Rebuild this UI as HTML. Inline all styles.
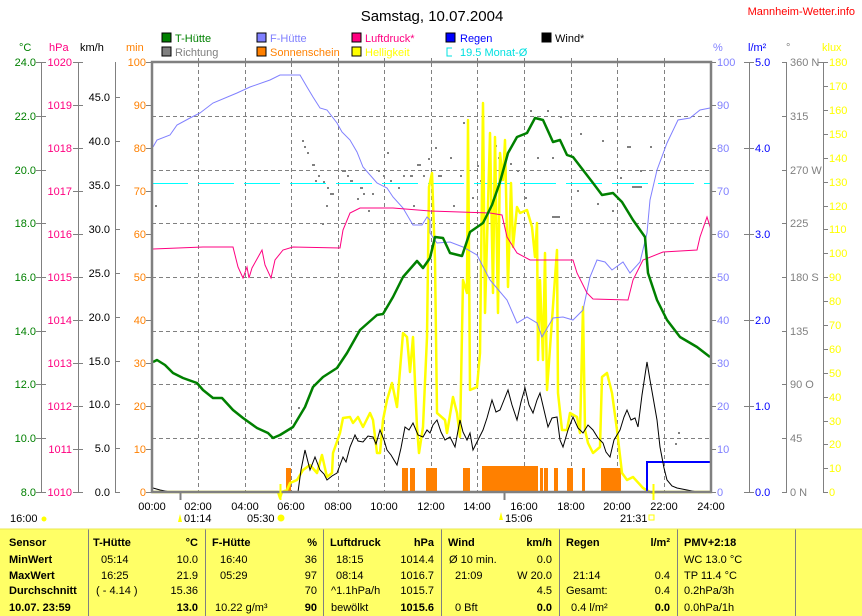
<!DOCTYPE html>
<html><head><meta charset="utf-8"><style>
html,body{margin:0;padding:0;background:#fff;}
svg{display:block;font-family:"Liberation Sans",sans-serif;}
</style></head><body>
<svg width="862" height="616" viewBox="0 0 862 616" xmlns="http://www.w3.org/2000/svg">
<rect width="862" height="616" fill="#fff"/>
<!-- title -->
<text x="432" y="21" font-size="15" text-anchor="middle" fill="#000">Samstag, 10.07.2004</text>
<text x="855" y="15" font-size="11" text-anchor="end" fill="#ff0000">Mannheim-Wetter.info</text>
<!-- legend -->
<g font-size="11">
<rect x="162" y="33" width="9" height="9" fill="#008000" stroke="#000"/><text x="175" y="42" fill="#008000">T-Hütte</text>
<rect x="162" y="47" width="9" height="9" fill="#808080" stroke="#000"/><text x="175" y="56" fill="#808080">Richtung</text>
<rect x="257" y="33" width="9" height="9" fill="#8080ff" stroke="#000"/><text x="270" y="42" fill="#8080ff">F-Hütte</text>
<rect x="257" y="47" width="9" height="9" fill="#ff8000" stroke="#000"/><text x="270" y="56" fill="#ff8000">Sonnenschein</text>
<rect x="352" y="33" width="9" height="9" fill="#ff0080" stroke="#000"/><text x="365" y="42" fill="#ff0080">Luftdruck*</text>
<rect x="352" y="47" width="9" height="9" fill="#ffff00" stroke="#000"/><text x="365" y="56" fill="#ffff00">Helligkeit</text>
<rect x="446" y="33" width="9" height="9" fill="#0000ff" stroke="#000"/><text x="460" y="42" fill="#0000ff">Regen</text>
<path d="M452 48 H447 V56 H452" fill="none" stroke="#00e0e0"/><text x="460" y="56" fill="#00e0e0">19.5 Monat-Ø</text>
<rect x="542" y="33" width="9" height="9" fill="#000" stroke="#000"/><text x="555" y="42" fill="#000">Wind*</text>
<!-- unit labels -->
<text x="19" y="51" fill="#008000">°C</text>
<text x="49" y="51" fill="#ff0080">hPa</text>
<text x="80" y="51" fill="#000">km/h</text>
<text x="126" y="51" fill="#ff8000">min</text>
<text x="713" y="51" fill="#8080ff">%</text>
<text x="748" y="51" fill="#0000ff">l/m²</text>
<text x="786" y="51" fill="#808080">°</text>
<text x="822" y="51" fill="#ffff00">klux</text>
</g>
<!-- axes lines -->
<g stroke="#808080" stroke-width="1" fill="none">
<line x1="41.5" y1="62" x2="41.5" y2="492"/>
<line x1="78.5" y1="62" x2="78.5" y2="492"/>
<line x1="115.5" y1="62" x2="115.5" y2="492"/>
<line x1="749.5" y1="62" x2="749.5" y2="492"/>
<line x1="786.5" y1="62" x2="786.5" y2="492"/>
<line x1="823.5" y1="62" x2="823.5" y2="492"/>
</g>
<!-- left axis labels -->
<g font-size="11" text-anchor="end">
<g fill="#008000">
<text x="36" y="66">24.0</text><text x="36" y="120">22.0</text><text x="36" y="174">20.0</text><text x="36" y="227">18.0</text><text x="36" y="281">16.0</text><text x="36" y="335">14.0</text><text x="36" y="388">12.0</text><text x="36" y="442">10.0</text><text x="36" y="496">8.0</text>
</g>
<g fill="#ff0080">
<text x="72" y="66">1020</text><text x="72" y="109">1019</text><text x="72" y="152">1018</text><text x="72" y="195">1017</text><text x="72" y="238">1016</text><text x="72" y="281">1015</text><text x="72" y="324">1014</text><text x="72" y="367">1013</text><text x="72" y="410">1012</text><text x="72" y="453">1011</text><text x="72" y="496">1010</text>
</g>
<g fill="#000">
<text x="110" y="101">45.0</text><text x="110" y="145">40.0</text><text x="110" y="189">35.0</text><text x="110" y="233">30.0</text><text x="110" y="277">25.0</text><text x="110" y="321">20.0</text><text x="110" y="365">15.0</text><text x="110" y="408">10.0</text><text x="110" y="452">5.0</text><text x="110" y="496">0.0</text>
</g>
<g fill="#ff8000">
<text x="146" y="66">100</text><text x="146" y="109">90</text><text x="146" y="152">80</text><text x="146" y="195">70</text><text x="146" y="238">60</text><text x="146" y="281">50</text><text x="146" y="324">40</text><text x="146" y="367">30</text><text x="146" y="410">20</text><text x="146" y="453">10</text><text x="146" y="496">0</text>
</g>
</g>
<!-- left ticks -->
<g stroke="#808080">
<path d="M36 62.5h10M36 116.5h10M36 170.5h10M36 223.5h10M36 277.5h10M36 331.5h10M36 384.5h10M36 438.5h10M36 492.5h10"/>
<path d="M73 62.5h10M73 105.5h10M73 148.5h10M73 191.5h10M73 234.5h10M73 277.5h10M73 320.5h10M73 363.5h10M73 406.5h10M73 449.5h10M73 492.5h10"/>
<path d="M115 97.5h5M115 141.5h5M115 185.5h5M115 229.5h5M115 273.5h5M115 317.5h5M115 361.5h5M115 404.5h5M115 448.5h5M115 492.5h5"/>
<path d="M146 62.5h5M146 105.5h5M146 148.5h5M146 191.5h5M146 234.5h5M146 277.5h5M146 320.5h5M146 363.5h5M146 406.5h5M146 449.5h5M146 492.5h5"/>
<path d="M711 62.5h5M711 105.5h5M711 148.5h5M711 191.5h5M711 234.5h5M711 277.5h5M711 320.5h5M711 363.5h5M711 406.5h5M711 449.5h5M711 492.5h5"/>
<path d="M744 62.5h10M744 148.5h10M744 234.5h10M744 320.5h10M744 406.5h10M744 492.5h10"/>
<path d="M782 62.5h5M782 116.5h5M782 170.5h5M782 223.5h5M782 277.5h5M782 331.5h5M782 384.5h5M782 438.5h5M782 492.5h5"/>
<path d="M818 62.5h10M823 86.5h5M823 110.5h5M823 134.5h5M823 158.5h5M823 182.5h5M823 206.5h5M823 229.5h5M823 253.5h5M823 277.5h5M823 301.5h5M823 325.5h5M823 349.5h5M823 373.5h5M823 397.5h5M823 421.5h5M823 444.5h5M823 468.5h5M823 492.5h5"/>
</g>
<!-- right axis labels -->
<g font-size="11">
<g fill="#8080ff">
<text x="717" y="66">100</text><text x="717" y="109">90</text><text x="717" y="152">80</text><text x="717" y="195">70</text><text x="717" y="238">60</text><text x="717" y="281">50</text><text x="717" y="324">40</text><text x="717" y="367">30</text><text x="717" y="410">20</text><text x="717" y="453">10</text><text x="717" y="496">0</text>
</g>
<g fill="#0000ff">
<text x="755" y="66">5.0</text><text x="755" y="152">4.0</text><text x="755" y="238">3.0</text><text x="755" y="324">2.0</text><text x="755" y="410">1.0</text><text x="755" y="496">0.0</text>
</g>
<g fill="#808080">
<text x="790" y="66">360 N</text><text x="790" y="120">315</text><text x="790" y="174">270 W</text><text x="790" y="227">225</text><text x="790" y="281">180 S</text><text x="790" y="335">135</text><text x="790" y="388">90  O</text><text x="790" y="442">45</text><text x="790" y="496">0    N</text>
</g>
<g fill="#ffff00">
<text x="829" y="66">180</text><text x="829" y="90">170</text><text x="829" y="114">160</text><text x="829" y="138">150</text><text x="829" y="162">140</text><text x="829" y="186">130</text><text x="829" y="210">120</text><text x="829" y="233">110</text><text x="829" y="257">100</text><text x="829" y="281">90</text><text x="829" y="305">80</text><text x="829" y="329">70</text><text x="829" y="353">60</text><text x="829" y="377">50</text><text x="829" y="401">40</text><text x="829" y="425">30</text><text x="829" y="448">20</text><text x="829" y="472">10</text><text x="829" y="496">0</text>
</g>
</g>
<!-- grid -->
<g stroke="#808080" stroke-dasharray="4 3" stroke-width="1">
<path d="M152 116.5H711M152 170.5H711M152 223.5H711M152 277.5H711M152 331.5H711M152 384.5H711M152 438.5H711"/>
<path d="M198.5 63V491M245.5 63V491M291.5 63V491M338.5 63V491M384.5 63V491M431.5 63V491M477.5 63V491M524.5 63V491M571.5 63V491M617.5 63V491M664.5 63V491"/>
</g>
<line x1="152" y1="183.5" x2="711" y2="183.5" stroke="#00ffff" stroke-dasharray="36 10"/>
<!-- orange sunshine bars -->
<g fill="#ff8000">
<rect x="286" y="468" width="5" height="24"/>
<rect x="402" y="468" width="6" height="24"/><rect x="410" y="468" width="5" height="24"/>
<rect x="426" y="468" width="11" height="24"/>
<rect x="463" y="468" width="7" height="24"/>
<rect x="482" y="466" width="56" height="26"/>
<rect x="540" y="468" width="3" height="24"/><rect x="544" y="468" width="4" height="24"/>
<rect x="554" y="468" width="4" height="24"/><rect x="567" y="468" width="6" height="24"/>
<rect x="582" y="468" width="3" height="24"/><rect x="601" y="468" width="20" height="24"/>
</g>
<!-- direction dots -->
<g fill="#808080">
<rect x="302" y="140" width="2" height="2"/><rect x="304" y="146" width="2" height="2"/><rect x="307" y="152" width="2" height="2"/><rect x="312" y="164" width="3" height="2"/><rect x="315" y="180" width="2" height="2"/><rect x="318" y="175" width="2" height="2"/><rect x="323" y="181" width="2" height="2"/><rect x="327" y="187" width="2" height="2"/><rect x="330" y="193" width="4" height="2"/><rect x="326" y="205" width="2" height="2"/><rect x="322" y="223" width="2" height="2"/><rect x="342" y="170" width="4" height="2"/><rect x="347" y="175" width="2" height="2"/><rect x="350" y="180" width="3" height="2"/><rect x="360" y="187" width="3" height="2"/><rect x="363" y="193" width="2" height="2"/><rect x="357" y="198" width="2" height="2"/><rect x="368" y="210" width="2" height="2"/><rect x="372" y="193" width="2" height="2"/><rect x="378" y="170" width="2" height="2"/><rect x="383" y="175" width="2" height="2"/><rect x="387" y="152" width="2" height="2"/><rect x="390" y="180" width="2" height="2"/><rect x="398" y="187" width="2" height="2"/><rect x="403" y="175" width="2" height="2"/><rect x="410" y="175" width="3" height="2"/><rect x="413" y="205" width="2" height="2"/><rect x="417" y="164" width="4" height="2"/><rect x="423" y="175" width="2" height="2"/><rect x="428" y="158" width="2" height="2"/><rect x="155" y="205" width="2" height="2"/><rect x="298" y="407" width="2" height="2"/>
<rect x="463" y="122" width="2" height="2"/><rect x="435" y="147" width="2" height="2"/><rect x="450" y="157" width="2" height="2"/><rect x="438" y="175" width="4" height="2"/><rect x="460" y="175" width="2" height="2"/><rect x="477" y="165" width="2" height="2"/><rect x="480" y="180" width="2" height="2"/><rect x="472" y="197" width="2" height="2"/><rect x="453" y="205" width="2" height="2"/><rect x="495" y="145" width="2" height="2"/><rect x="498" y="157" width="2" height="2"/><rect x="510" y="163" width="2" height="2"/><rect x="517" y="170" width="2" height="2"/><rect x="525" y="197" width="2" height="2"/><rect x="530" y="110" width="2" height="2"/><rect x="547" y="110" width="2" height="2"/><rect x="560" y="116" width="2" height="2"/><rect x="537" y="157" width="2" height="2"/><rect x="552" y="157" width="2" height="2"/><rect x="552" y="216" width="8" height="2"/><rect x="580" y="133" width="2" height="2"/><rect x="602" y="140" width="2" height="2"/><rect x="627" y="146" width="4" height="2"/><rect x="577" y="190" width="2" height="2"/><rect x="597" y="203" width="2" height="2"/><rect x="612" y="210" width="2" height="2"/><rect x="620" y="177" width="2" height="2"/><rect x="632" y="186" width="10" height="2"/><rect x="650" y="146" width="2" height="2"/><rect x="640" y="170" width="2" height="2"/><rect x="678" y="432" width="2" height="2"/><rect x="675" y="443" width="2" height="2"/>
</g>
<!-- Helligkeit -->
<polyline fill="none" stroke="#ffff00" stroke-width="2.5" stroke-linejoin="round" points="152,492 278,492 280,498 282,492 287,490 290,483 297,480 303,470 310,465 317,473 322,455 327,477 332,473 333,453 340,433 343,418 350,417 353,423 358,417 363,427 370,413 373,420 377,453 380,453 383,420 387,400 392,383 397,407 400,370 403,333 407,337 410,372 413,337 417,427 419,453 423,427 427,337 429,187 432,173 435,260 437,413 445,420 447,433 453,397 457,413 460,437 463,280 467,293 468,120 470,390 477,387 480,353 483,103 485,313 490,133 493,293 495,137 498,313 500,153 503,180 505,140 508,287 511,183 513,247 517,207 520,213 527,210 532,227 535,257 537,223 538,360 540,280 543,360 545,253 547,390 557,250 558,393 562,430 567,430 570,413 577,417 580,433 583,307 585,430 588,443 593,453 600,447 602,377 607,373 612,393 617,430 622,473 627,480 633,477 643,488 650,492 653,493 656,492 711,492"/>
<!-- F-Hütte -->
<polyline fill="none" stroke="#8080ff" stroke-width="1" points="153,147 157,140 170,135 177,125 190,118 200,113 213,103 237,93 250,87 270,80 280,75 300,75 307,87 313,97 320,108 327,110 337,123 342,132 350,140 357,152 363,167 377,183 387,188 393,197 403,208 413,225 422,225 427,217 430,220 430,233 437,243 450,242 463,247 477,255 490,280 507,300 517,323 527,317 537,323 542,337 553,318 563,317 573,320 583,310 590,277 597,260 605,262 612,270 623,262 630,273 640,262 647,233 650,200 657,170 667,143 678,120 690,118 700,110 710,108"/>
<!-- Luftdruck -->
<polyline fill="none" stroke="#ff0080" stroke-width="1" points="153,249 203,247 233,247 238,267 243,278 247,267 249,278 252,268 262,250 265,265 271,278 275,260 283,250 293,247 340,248 343,230 350,213 360,208 393,208 430,211 490,213 502,215 507,237 517,253 530,260 573,260 577,273 587,293 593,299 628,300 633,280 643,260 663,252 697,250 700,237 707,217 711,230"/>
<!-- Regen -->
<polyline fill="none" stroke="#0000ff" stroke-width="2" points="647,492 647,462 711,462"/>
<!-- Wind -->
<polyline fill="none" stroke="#000" stroke-width="1" points="153,488 160,490 170,492 298,492 301,470 305,450 308,462 310,470 315,457 320,470 324,474 327,480 332,476 337,473 343,457 346,462 350,447 355,435 358,441 363,442 368,436 373,437 376,444 380,430 384,440 387,450 391,455 397,465 401,448 405,427 409,430 413,423 418,435 423,437 427,430 430,433 433,425 437,420 441,432 445,440 450,437 455,447 460,420 463,432 467,440 470,433 473,450 478,440 483,430 487,418 492,400 496,412 500,410 504,400 508,390 512,405 517,420 521,402 525,388 529,405 533,413 537,400 540,393 544,410 548,427 552,418 557,417 560,440 563,447 568,430 573,417 578,428 583,433 588,425 593,430 598,438 603,443 606,452 610,457 614,440 620,430 624,417 627,410 631,420 635,418 638,427 642,395 647,362 650,380 653,397 657,420 660,447 664,468 667,480 672,486 677,488 687,490 697,492 711,492"/>
<!-- T-Hütte -->
<polyline fill="none" stroke="#008000" stroke-width="2.5" stroke-linejoin="round" points="153,362 157,360 165,365 173,373 183,378 197,383 203,390 213,398 222,398 233,410 243,418 257,428 268,433 273,438 280,435 293,427 305,407 313,387 323,377 337,368 347,353 360,330 377,315 383,314 393,297 403,277 417,261 423,268 430,258 435,237 443,238 450,253 462,256 470,232 483,223 492,205 500,182 508,153 517,137 527,133 535,118 543,120 553,142 560,140 567,155 573,157 583,170 593,183 602,195 613,193 622,202 633,220 645,237 648,273 657,300 667,320 680,337 697,347 710,357"/>
<!-- plot frame -->
<rect x="152" y="62" width="559" height="430" fill="none" stroke="#808080" stroke-width="2.5"/>
<!-- top/bottom ticks -->
<g stroke="#808080">
<path d="M198.5 58v4M245.5 58v4M291.5 58v4M338.5 58v4M384.5 58v4M431.5 58v4M477.5 58v4M524.5 58v4M571.5 58v4M617.5 58v4M664.5 58v4"/>
<path d="M180.5 492v8M504.5 492v8" stroke-width="2"/>
</g>
<path d="M280.5 484v16M653.5 484v16" stroke="#ffff00" stroke-width="2"/>
<!-- x labels -->
<g font-size="11" text-anchor="middle" fill="#000">
<text x="152" y="510">00:00</text><text x="198" y="510">02:00</text><text x="245" y="510">04:00</text><text x="291" y="510">06:00</text><text x="338" y="510">08:00</text><text x="384" y="510">10:00</text><text x="431" y="510">12:00</text><text x="477" y="510">14:00</text><text x="524" y="510">16:00</text><text x="571" y="510">18:00</text><text x="617" y="510">20:00</text><text x="664" y="510">22:00</text><text x="711" y="510">24:00</text>
</g>
<g font-size="11" fill="#000">
<text x="10" y="522">16:00</text><circle cx="44" cy="519" r="2.5" fill="#ffff00"/>
<text x="184" y="522">01:14</text><path d="M180 514 l-2 8 h4z" fill="#ffff00"/>
<text x="247" y="522">05:30</text><circle cx="281" cy="518" r="3.5" fill="#ffff00"/>
<text x="505" y="522">15:06</text><path d="M501 512 l-2 8 h4z" fill="#ffff00"/>
<text x="620" y="522">21:31</text><rect x="649" y="515" width="5" height="5" fill="none" stroke="#ffff00"/>
</g>
<!-- table -->
<rect x="0" y="529" width="862" height="87" fill="#ffff66"/>
<g stroke="#808080">
<path d="M88.5 529V616M205.5 529V616M323.5 529V616M441.5 529V616M559.5 529V616M677.5 529V616M795.5 529V616"/>
</g>
<line x1="0" y1="529" x2="862" y2="529" stroke="#e8e850"/>
<g font-size="11" fill="#000">
<g font-weight="bold">
<text x="9" y="546">Sensor</text><text x="9" y="563">MinWert</text><text x="9" y="579">MaxWert</text><text x="9" y="594">Durchschnitt</text><text x="9" y="611">10.07. 23:59</text>
<text x="93" y="546">T-Hütte</text><text x="212" y="546">F-Hütte</text><text x="330" y="546">Luftdruck</text><text x="448" y="546">Wind</text><text x="566" y="546">Regen</text><text x="684" y="546">PMV+2:18</text>
</g>
<g text-anchor="end" font-weight="bold">
<text x="198" y="546">°C</text><text x="317" y="546">%</text><text x="434" y="546">hPa</text><text x="552" y="546">km/h</text><text x="670" y="546">l/m²</text>
<text x="198" y="611">13.0</text><text x="317" y="611">90</text><text x="434" y="611">1015.6</text><text x="552" y="611">0.0</text><text x="670" y="611">0.0</text>
</g>
<text x="101" y="563">05:14</text><text x="101" y="579">16:25</text><text x="96" y="594">( - 4.14 )</text>
<text x="220" y="563">16:40</text><text x="220" y="579">05:29</text><text x="215" y="611">10.22 g/m³</text>
<text x="336" y="563">18:15</text><text x="336" y="579">08:14</text><text x="331" y="594">^1.1hPa/h</text><text x="331" y="611">bewölkt</text>
<text x="449" y="563">Ø 10 min.</text><text x="455" y="579">21:09</text><text x="455" y="611">0 Bft</text>
<text x="573" y="579">21:14</text><text x="566" y="594">Gesamt:</text><text x="571" y="611">0.4 l/m²</text>
<text x="684" y="563">WC 13.0 °C</text><text x="684" y="579">TP 11.4 °C</text><text x="684" y="594">0.2hPa/3h</text><text x="684" y="611">0.0hPa/1h</text>
<g text-anchor="end">
<text x="198" y="563">10.0</text><text x="198" y="579">21.9</text><text x="198" y="594">15.36</text>
<text x="317" y="563">36</text><text x="317" y="579">97</text><text x="317" y="594">70</text>
<text x="434" y="563">1014.4</text><text x="434" y="579">1016.7</text><text x="434" y="594">1015.7</text>
<text x="552" y="563">0.0</text><text x="552" y="579">W 20.0</text><text x="552" y="594">4.5</text>
<text x="670" y="579">0.4</text><text x="670" y="594">0.4</text>
</g>
</g>
</svg>
</body></html>
